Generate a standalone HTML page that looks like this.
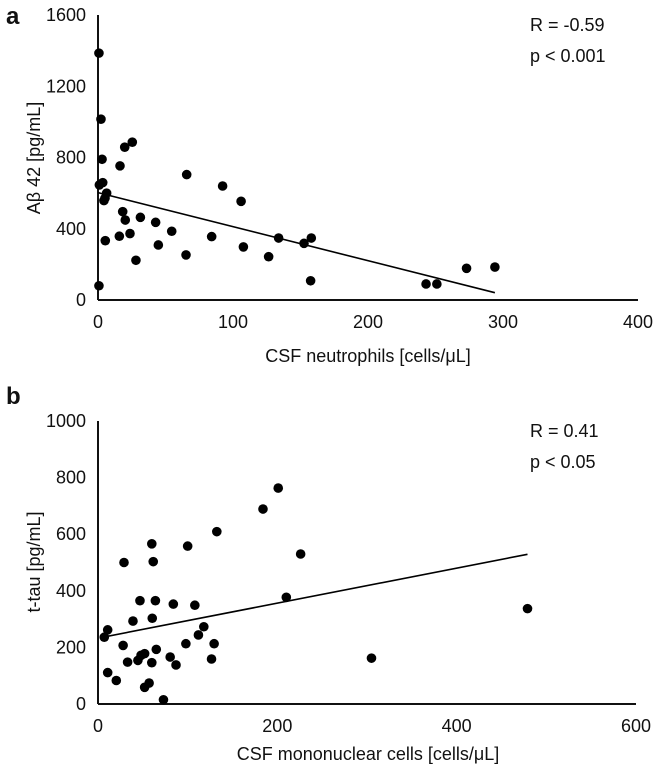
<!DOCTYPE html>
<html><head><meta charset="utf-8"><style>
body{margin:0;background:#fff}
svg text{font-family:"Liberation Sans",sans-serif;fill:#111}
</style></head><body>
<svg id="c" width="657" height="769" xmlns="http://www.w3.org/2000/svg"></svg>
<script>
const aX=[0.7,2.2,3,25.4,19.8,16.3,65.7,92.3,106,1,3.5,6.4,5.2,4.4,18.3,20.2,31.4,42.7,54.6,15.8,23.7,5.4,44.7,28.1,65.2,84.2,107.7,126.4,133.8,152.6,158,157.5,0.7,243,251,273,294];
const aY=[1386,1015,790,886,858,753,704,640,554,646,659,600,572,558,496,449,464,436,386,358,373,333,309,223,253,356,298,243,348,318,348,108,80,90,90,178,185];
const aTrend=[[0,603],[294,41]];
const aXTicks=[0,100,200,300,400];
const aYTicks=[0,400,800,1200,1600];
const bX=[10.8,7,10.8,20.4,29,28,33,39,46.8,44.5,48,52,52,57,60,61.6,64,60.5,60,65,73,80.5,84,87,100,98,108,112,118,129.5,126.6,132.5,184,201,226,210,305,479];
const bY=[262,236,111,83,500,207,148,293,365,154,172,178,59,74,566,503,365,303,146,193,15,166,353,138,558,213,349,244,273,213,159,609,689,763,530,377,162,337];
const bTrend=[[7,237],[479,529]];
const bXTicks=[0,200,400,600];
const bYTicks=[0,200,400,600,800,1000];
const NS="http://www.w3.org/2000/svg";
const svg=document.getElementById('c');
function el(t,a,txt){const e=document.createElementNS(NS,t);for(const k in a)e.setAttribute(k,a[k]);if(txt!==undefined)e.textContent=txt;svg.appendChild(e);return e;}
function panel(p){
 const sx=v=>p.x0+(v-p.xmin)/(p.xmax-p.xmin)*(p.x1-p.x0);
 const sy=v=>p.y0-(v-p.ymin)/(p.ymax-p.ymin)*(p.y0-p.y1);
 let e=el('line',{x1:p.x0,y1:p.y1,x2:p.x0,y2:p.y0,stroke:'#111','stroke-width':2});
 
 
 e=el('line',{x1:p.x0,y1:p.y0,x2:p.x1,y2:p.y0,stroke:'#111','stroke-width':2});
 
 
 p.xt.forEach(v=>{e=el('text',{x:sx(v),y:p.y0+28,'font-size':18,'text-anchor':'middle'},v);
  
  });
 p.yt.forEach(v=>{e=el('text',{x:p.x0-12,y:sy(v)+6,'font-size':18,'text-anchor':'end'},v);
  
  });
 p.xs.forEach((v,i)=>{e=el('circle',{cx:sx(v),cy:sy(p.ys[i]),r:4.8,fill:'#000'});
  
  });
 e=el('line',{x1:sx(p.tr[0][0]),y1:sy(p.tr[0][1]),x2:sx(p.tr[1][0]),y2:sy(p.tr[1][1]),stroke:'#000','stroke-width':1.6});
 
 
}
panel({id:'a',x0:98,x1:638,y0:300,y1:15,xmin:0,xmax:400,ymin:0,ymax:1600,xt:aXTicks,yt:aYTicks,xs:aX,ys:aY,tr:aTrend});
panel({id:'b',x0:98,x1:636,y0:704,y1:421,xmin:0,xmax:600,ymin:0,ymax:1000,xt:bXTicks,yt:bYTicks,xs:bX,ys:bY,tr:bTrend});
</script>
<svg style="position:absolute;left:0;top:0" width="657" height="769" xmlns="http://www.w3.org/2000/svg">
<text x="6" y="24" font-size="24" font-weight="bold">a</text>
<text x="6" y="404" font-size="24" font-weight="bold">b</text>
<text x="530" y="31" font-size="18">R = -0.59</text>
<text x="530" y="62" font-size="18">p &lt; 0.001</text>
<text x="530" y="437" font-size="18">R = 0.41</text>
<text x="530" y="468" font-size="18">p &lt; 0.05</text>
<text x="368" y="362" font-size="18" text-anchor="middle">CSF neutrophils [cells/μL]</text>
<text x="368" y="760" font-size="18" text-anchor="middle">CSF mononuclear cells [cells/μL]</text>
<text transform="translate(40,158) rotate(-90)" font-size="18" text-anchor="middle">Aβ 42 [pg/mL]</text>
<text transform="translate(40,562) rotate(-90)" font-size="18" text-anchor="middle">t-tau [pg/mL]</text>
</svg>
</body></html>
